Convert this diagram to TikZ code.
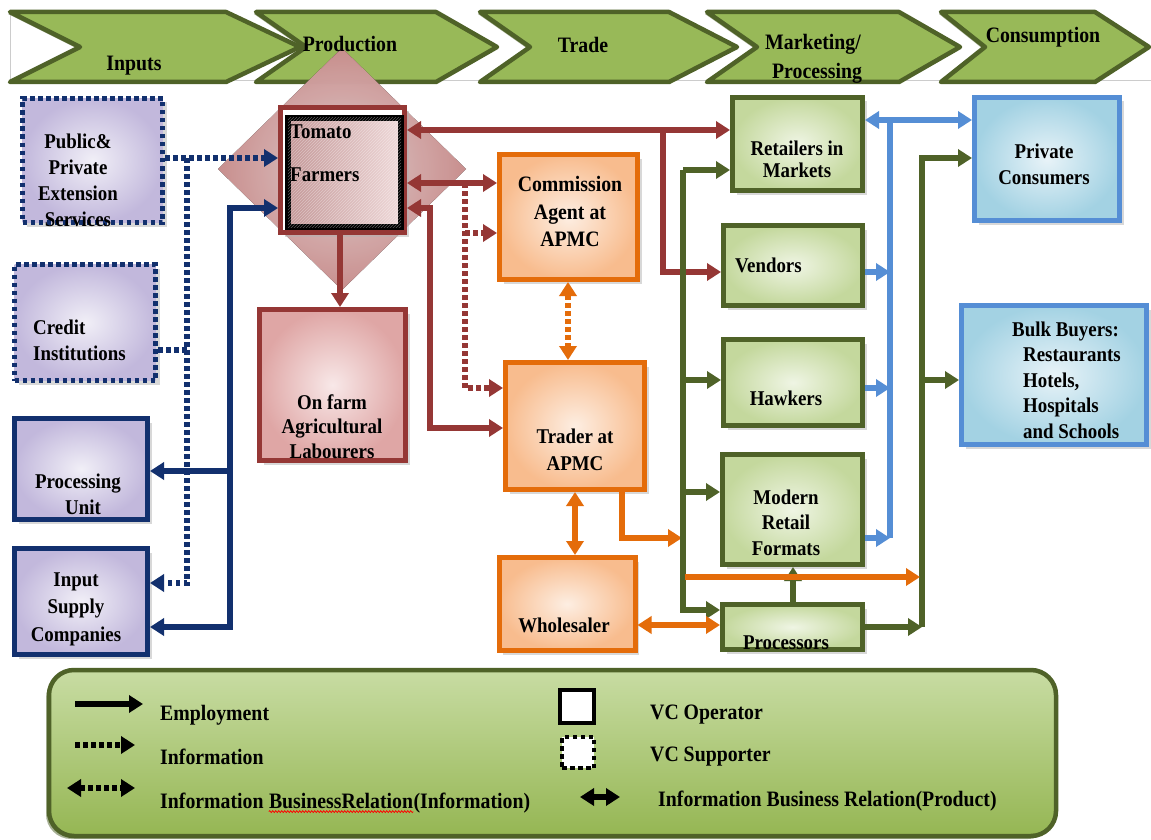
\documentclass[tikz,border=0pt]{standalone}
\usepackage{fontspec}
\setmainfont{Liberation Serif}[FakeStretch=0.9]
\usetikzlibrary{arrows.meta,shadows,patterns,decorations.pathmorphing}
\definecolor{navy}{HTML}{12306E}
\definecolor{dred}{HTML}{953735}
\definecolor{orng}{HTML}{E46C0A}
\definecolor{dgreen}{HTML}{4F6228}
\definecolor{lblue}{HTML}{558ED5}
\definecolor{lavin}{HTML}{F1EFF7}
\definecolor{lavout}{HTML}{C2B8DC}
\definecolor{pinkin}{HTML}{F8E8E8}
\definecolor{pinkout}{HTML}{DFA6A5}
\definecolor{peachin}{HTML}{FDEEE2}
\definecolor{peachout}{HTML}{F8BC8E}
\definecolor{grin}{HTML}{EFF5E4}
\definecolor{grout}{HTML}{C4D89D}
\definecolor{bluin}{HTML}{E8F3F8}
\definecolor{bluout}{HTML}{A3D2E3}
\definecolor{chevdark}{HTML}{98B958}
\definecolor{chevlight}{HTML}{D2E6AE}
\definecolor{legtop}{HTML}{C8DCA3}
\definecolor{legbot}{HTML}{95B653}
\definecolor{diain}{HTML}{F5E0E0}
\definecolor{diaout}{HTML}{DC9C9B}
\definecolor{farmdark}{HTML}{C49898}
\definecolor{farmlight}{HTML}{EFD9D9}
\newcommand{\mfont}{\fontsize{21}{26}\selectfont\bfseries}
\newcommand{\bnfont}{\fontsize{22}{27}\selectfont\bfseries}
\newcommand{\lgfont}{\fontsize{22}{26}\selectfont\bfseries}
\begin{document}
\begin{tikzpicture}[x=1pt,y=-1pt,
  >={Triangle[length=14pt,width=17pt]},
  conn/.style={line width=5.5pt},
  arr/.style={conn,->},
  darr/.style={conn,<->},
  dotl/.style={dash pattern=on 4.5pt off 3.5pt},
  box/.style={draw, line width=5pt, inner sep=0pt,
    drop shadow={shadow xshift=4pt,shadow yshift=-4pt,fill=black!30}},
  lavbox/.style={box,draw=navy,inner color=lavin,outer color=lavout},
  pinkbox/.style={box,draw=dred,inner color=pinkin,outer color=pinkout},
  peachbox/.style={box,draw=orng,inner color=peachin,outer color=peachout},
  grbox/.style={box,draw=dgreen,inner color=grin,outer color=grout},
  blubox/.style={box,draw=lblue,inner color=bluin,outer color=bluout},
  chev/.style={draw=dgreen,line width=4.5pt,line join=round,top color=chevdark,
    middle color=chevlight,bottom color=chevdark,
    drop shadow={shadow xshift=-2pt,shadow yshift=-2pt,fill=dgreen}},
  tx/.style={font=\mfont,align=center,inner sep=0pt},
  bx/.style={font=\bnfont,align=center,inner sep=0pt},
  lx/.style={font=\lgfont,anchor=west,inner sep=0pt}]
\useasboundingbox (0,0) rectangle (1151,840);
\fill[white] (0,0) rectangle (1151,840);

% ---------- banner ----------
\draw[gray!40,line width=1pt] (10,12) -- (10,81) -- (1151,81);
\path[chev] (10,12) -- (226,12) -- (300,47) -- (226,82) -- (10,82) -- (80,47) -- cycle;
\path[chev] (256,12) -- (436,12) -- (497,47) -- (436,82) -- (256,82) -- (306,47) -- cycle;
\path[chev] (480,12) -- (669,12) -- (737,47) -- (669,82) -- (480,82) -- (530,47) -- cycle;
\path[chev] (707,12) -- (899,12) -- (960,47) -- (899,82) -- (707,82) -- (757,47) -- cycle;
\path[chev] (941,12) -- (1095,12) -- (1149,47) -- (1095,82) -- (941,82) -- (985,47) -- cycle;

% diamond behind tomato farmers
\fill[inner color=diain,outer color=diaout,opacity=0.9] (342,48) -- (466,169) -- (342,290) -- (218,169) -- cycle;

\node[bx] (bInputs) at (134,66) {Inputs};
\node[bx] (bProd) at (350,44) {Production};
\node[bx] (bTrade) at (583,45) {Trade};
\node[bx] (bMark) at (813,44) {Marketing/};
\node[bx] (bProc) at (817,73) {Processing};
\node[bx] (bCons) at (1043,37) {Consumption};

% ---------- boxes ----------
\node[lavbox,dotl,minimum width=140,minimum height=124] (pub) at (92.5,160.5) {};
\node[lavbox,dotl,minimum width=141,minimum height=116] (credit) at (85,322.5) {};
\node[lavbox,minimum width=133,minimum height=101] (proc) at (81,469) {};
\node[lavbox,minimum width=133,minimum height=106] (input) at (81,601.5) {};

\node[box,draw=dred,fill=white,minimum width=124,minimum height=125] (farm) at (342.5,170) {};
\node[draw=black,line width=5.5pt,inner sep=0pt,left color=farmdark,right color=farmlight,
  postaction={pattern=north east lines,pattern color=white,opacity=0.35},
  minimum width=113,minimum height=109] (farmin) at (344.5,172.5) {};

\node[pinkbox,minimum width=146,minimum height=151] (lab) at (332.5,385) {};
\node[peachbox,minimum width=138,minimum height=125] (comm) at (568.5,217) {};
\node[peachbox,minimum width=139,minimum height=127] (trader) at (575,426) {};
\node[peachbox,minimum width=136,minimum height=93] (whole) at (567,604) {};
\node[grbox,minimum width=130,minimum height=93] (retail) at (797.5,144) {};
\node[grbox,minimum width=139,minimum height=80] (vend) at (793,265.5) {};
\node[grbox,minimum width=139,minimum height=86] (hawk) at (793,382.5) {};
\node[grbox,minimum width=140,minimum height=110] (modern) at (792.5,509.5) {};
\node[grbox,minimum width=140,minimum height=45] (proces) at (792.5,627) {};
\node[blubox,minimum width=145,minimum height=123] (priv) at (1047,159) {};
\node[blubox,minimum width=185,minimum height=139] (bulk) at (1054,375) {};

% ---------- texts ----------
\node[tx] (tPub) at (78,180) {Public\&\\Private\\Extension\\Services};
\node[tx,align=left,anchor=west] (tCred) at (33,340) {Credit\\Institutions};
\node[tx] (tProc) at (78,494.5) {Processing\\\hspace*{10pt}Unit};
\node[tx,font=\fontsize{21}{27.5}\selectfont\bfseries] (tInput) at (76,609) {Input\\Supply\\Companies};
\node[tx,anchor=west] (tFarm1) at (290,132) {Tomato};
\node[tx,anchor=west] (tFarm2) at (290,175) {Farmers};
\node[tx,font=\fontsize{21}{24.5}\selectfont\bfseries] (tLab) at (332,426.5) {On farm\\Agricultural\\Labourers};
\node[tx,font=\fontsize{22}{27.5}\selectfont\bfseries] (tComm) at (570,211.5) {Commission\\Agent at\\APMC};
\node[tx,font=\fontsize{21}{27}\selectfont\bfseries] (tTrad) at (575,449.5) {Trader at\\APMC};
\node[tx] (tWhole) at (564,625) {Wholesaler};
\node[tx,font=\fontsize{21}{22}\selectfont\bfseries] (tRet) at (797,159) {Retailers in\\Markets};
\node[tx,anchor=west] (tVend) at (735,265) {Vendors};
\node[tx] (tHawk) at (786,398) {Hawkers};
\node[tx,font=\fontsize{21}{25.5}\selectfont\bfseries] (tMod) at (786,522.5) {Modern\\Retail\\Formats};
\node[tx] (tProcs) at (786,643) {Processors};
\node[tx] (tPriv) at (1044,164) {Private\\Consumers};
\node[tx,align=left,anchor=west,font=\fontsize{21}{25.5}\selectfont\bfseries] (tBulk) at (1012,380)
  {Bulk Buyers:\\\hspace*{11pt}Restaurants\\\hspace*{11pt}Hotels,\\\hspace*{11pt}Hospitals\\\hspace*{11pt}and Schools};

% ---------- connectors: navy ----------
\coordinate (nj1) at (187,158);
\coordinate (nj2) at (230,471);
\draw[navy,arr,dotl] (pub.east |- nj1) -- (farm.west |- nj1);
\draw[navy,arr,dotl] (nj1) |- (input.east |- 0,583);
\draw[navy,conn,dotl] (credit.east |- 0,350) -- (nj1 |- 0,350);
\draw[navy,arr] (nj2) |- (farm.west |- 0,208);
\draw[navy,arr] (nj2) -- (proc.east |- nj2);
\draw[navy,arr] (nj2) |- (input.east |- 0,627);

% ---------- connectors: dark red ----------
\coordinate (rj1) at (663,130);
\coordinate (rj2) at (465,183);
\coordinate (rj3) at (430,208);
\draw[dred,darr] (farm.east |- rj1) -- (retail.west |- rj1);
\draw[dred,arr] (rj1) |- (vend.west |- 0,272);
\draw[dred,darr] (farm.east |- rj2) -- (comm.west |- rj2);
\draw[dred,arr,dotl] (rj2) |- (trader.west |- 0,388);
\draw[dred,arr,dotl] (rj2 |- 0,233) -- (comm.west |- 0,233);
\draw[dred,darr] (farm.east |- rj3) -| (rj3 |- 0,428) -- (trader.west |- 0,428);
\draw[dred,arr] (farm.south -| 340,0) -- (lab.north -| 340,0);

% ---------- connectors: orange ----------
\coordinate (oj1) at (682,538);
\coordinate (oj2) at (685,577);
\coordinate (oj3) at (920,577);
\draw[orng,darr,dotl] (comm.south -| 568,0) -- (trader.north -| 568,0);
\draw[orng,darr] (trader.south -| 575,0) -- (whole.north -| 575,0);
\draw[orng,arr] (trader.south -| 622,0) |- (oj1);

% ---------- connectors: green ----------
\coordinate (gj1) at (683,170);
\coordinate (gj2) at (922,158);
\draw[dgreen,arr] (gj1) |- (proces.west |- 0,610);
\draw[dgreen,arr] (gj1) -- (retail.west |- gj1);
\draw[dgreen,arr] (gj1 |- 0,380) -- (hawk.west |- 0,380);
\draw[dgreen,arr] (gj1 |- 0,492) -- (modern.west |- 0,492);
\draw[dgreen,arr] (proces.north -| 793,0) -- (modern.south -| 793,0);
\draw[dgreen,arr] (proces.east |- 0,627) -- (gj2 |- 0,627);
\draw[dgreen,arr] (gj2 |- 0,627) |- (priv.west |- gj2);
\draw[dgreen,arr] (gj2 |- 0,380) -- (bulk.west |- 0,380);

\draw[orng,darr] (whole.east |- 0,625) -- (proces.west |- 0,625);
\draw[orng,arr] (oj2) -- (oj3);

% ---------- connectors: blue ----------
\coordinate (bj1) at (890,120);
\draw[lblue,darr] (retail.east |- bj1) -- (priv.west |- bj1);
\draw[lblue,conn] (bj1) -- (bj1 |- 0,538);
\draw[lblue,arr] (vend.east |- 0,272) -- (bj1 |- 0,272);
\draw[lblue,arr] (hawk.east |- 0,388) -- (bj1 |- 0,388);
\draw[lblue,arr] (modern.east |- 0,538) -- (bj1 |- 0,538);

% ---------- legend ----------
\node[draw=dgreen,line width=4.5pt,rounded corners=25pt,top color=legtop,bottom color=legbot,
  minimum width=1007,minimum height=166,inner sep=0pt,
  drop shadow={shadow xshift=-3pt,shadow yshift=-3pt,fill=dgreen}] (leg) at (552.5,753) {};
\coordinate (le1a) at (75,704);  \coordinate (le1b) at (143,704);
\coordinate (le2a) at (75,745);  \coordinate (le2b) at (135,745);
\coordinate (le3a) at (67,788);  \coordinate (le3b) at (135,788);
\coordinate (le4a) at (580,797); \coordinate (le4b) at (620,797);
\draw[black,arr] (le1a) -- (le1b);
\draw[black,arr,dotl] (le2a) -- (le2b);
\draw[black,darr,dotl] (le3a) -- (le3b);
\draw[black,darr] (le4a) -- (le4b);
\node[draw=black,line width=4.5pt,fill=white,inner sep=0pt,minimum width=34,minimum height=33] (vcop) at (577,706.5) {};
\node[draw=black,line width=4.5pt,dotl,fill=white,inner sep=0pt,minimum width=32,minimum height=31] (vcsup) at (578,752.5) {};
\node[lx] (lEmp) at (160,715) {Employment};
\node[lx] (lInf) at (160,757) {Information};
\node[lx] (lIb1) at (160,801) {Information};
\node[font=\lgfont,inner sep=0pt,anchor=base west] (lIb2) at ([xshift=5pt]lIb1.base east) {BusinessRelation};
\node[font=\lgfont,inner sep=0pt,anchor=base west] (lIb3) at (lIb2.base east) {(Information)};
\draw[red,line width=0.7pt,decorate,decoration={snake,amplitude=1pt,segment length=3pt}]
  ([yshift=-3pt]lIb2.base west) -- ([yshift=-3pt]lIb2.base east);
\node[lx] (lOp) at (650,715) {VC Operator};
\node[lx] (lSup) at (650,757) {VC Supporter};
\node[lx] (lProd) at (658,801) {Information Business Relation(Product)};
\end{tikzpicture}
\end{document}
